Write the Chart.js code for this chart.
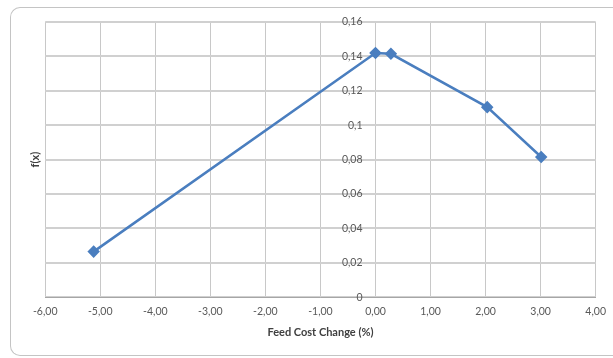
<!DOCTYPE html>
<html>
<head>
<meta charset="utf-8">
<script src="https://cdn.jsdelivr.net/npm/chart.js@4"></script>
<style>
  html, body { margin: 0; padding: 0; background: #fff; overflow: hidden; width: 613px; height: 358px; }
  #frame {
    position: absolute; left: 10px; top: 7px;
    width: 640px; height: 347px;
    border: 1px solid #c4c4c4; border-right: none; border-radius: 10px 0 0 10px;
  }
  #wrap { position: absolute; left: 0; top: 0; width: 603px; height: 343px; }
</style>
</head>
<body>
<div id="frame"><div id="wrap"><canvas id="c"></canvas></div></div>
<script>
// Feed cost change (%) against f(x)
const feedCostChange = [-5.12, 0.0, 0.28, 2.03, 3.01];
const fValues = [0.0265, 0.1420, 0.1415, 0.1105, 0.0815];
const xTicks = [-6, -5, -4, -3, -2, -1, 0, 1, 2, 3, 4];
const yTicks = [0, 0.02, 0.04, 0.06, 0.08, 0.1, 0.12, 0.14, 0.16];

const points = feedCostChange.map((x, i) => ({ x: x, y: fValues[i] }));
const comma = v => String(v).replace('.', ',');
const family = 'Lato, "Open Sans", sans-serif';
const tickFont = { family: family, size: 10.5 };
const titleFont = { family: family, size: 11, weight: 'bold' };

new Chart(document.getElementById('c'), {
  type: 'scatter',
  data: {
    datasets: [{
      data: points,
      showLine: true,
      borderColor: '#4a7ebf',
      backgroundColor: '#4a7ebf',
      borderWidth: 2.5,
      pointStyle: 'rectRot',
      pointRadius: 4.5,
      pointHoverRadius: 4.5,
      tension: 0
    }]
  },
  options: {
    responsive: true,
    maintainAspectRatio: false,
    animation: false,
    layout: { padding: { left: 15, right: 6, top: 14, bottom: 12 } },
    plugins: { legend: { display: false }, tooltip: { enabled: false } },
    scales: {
      x: {
        type: 'linear',
        min: xTicks[0],
        max: xTicks[xTicks.length - 1],
        afterBuildTicks: s => { s.ticks = xTicks.map(v => ({ value: v })); },
        ticks: {
          color: '#595959', font: tickFont, padding: 8,
          callback: v => comma(v.toFixed(2))
        },
        grid: { color: '#c8c8c8', lineWidth: 1, drawTicks: false },
        border: { color: '#a6a6a6', width: 1 },
        title: {
          display: true, text: 'Feed Cost Change (%)', color: '#404040',
          font: titleFont,
          padding: { top: 0, bottom: 0 }
        }
      },
      y: {
        type: 'linear',
        // labels sit just left of the x = 0 gridline, which serves as the axis line
        position: { x: -0.235 },
        min: yTicks[0],
        max: yTicks[yTicks.length - 1],
        afterBuildTicks: s => { s.ticks = yTicks.map(v => ({ value: v })); },
        ticks: {
          color: '#595959', font: tickFont,
          callback: v => comma(v)
        },
        grid: { color: '#d0d0d0', lineWidth: 2, drawTicks: false },
        border: { display: false }
      },
      yTitle: {
        type: 'linear',
        position: 'left',
        min: 0, max: 1,
        ticks: { display: false },
        grid: { display: false, drawTicks: false },
        border: { display: false },
        title: {
          display: true, text: 'f(x)', color: '#404040',
          font: titleFont,
          padding: 3
        }
      }
    }
  }
});
</script>
</body>
</html>
